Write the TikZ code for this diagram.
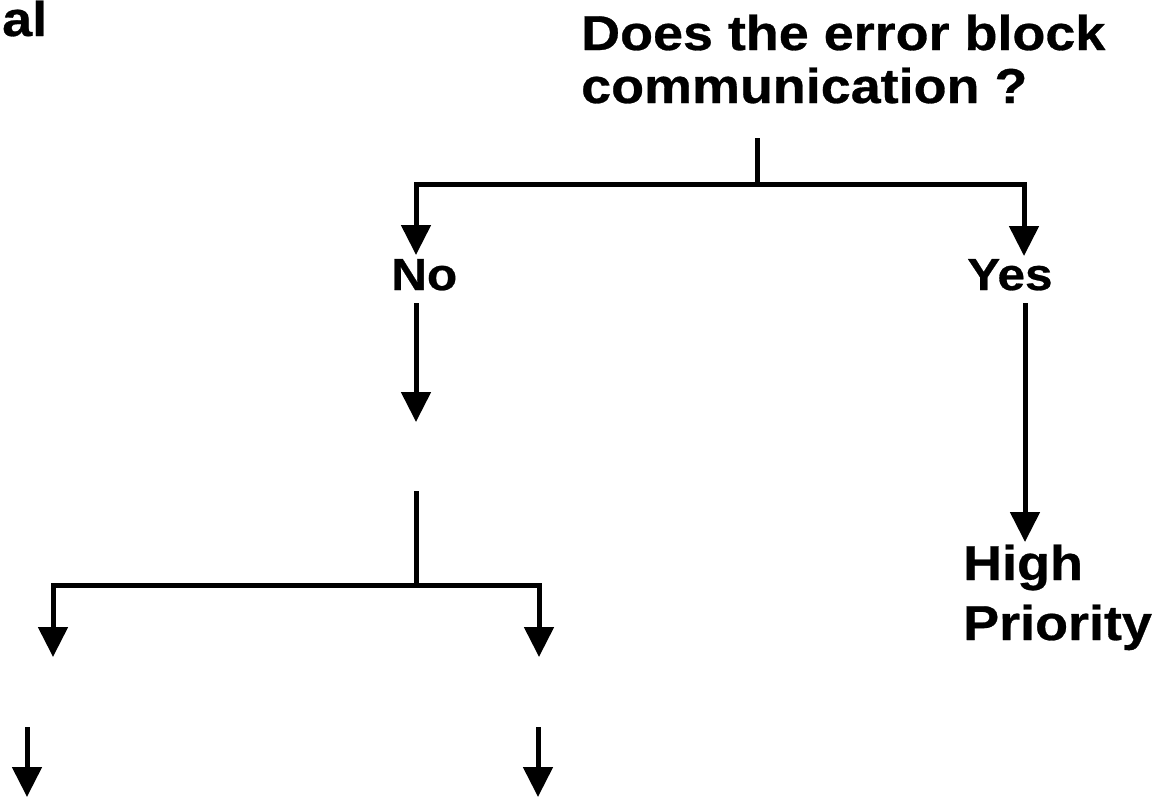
\documentclass[tikz,border=0pt]{standalone}
\usepackage{fontspec}
\newfontfamily\labfont{Liberation Sans}[FakeStretch=1.1,FakeBold=0.6]
\usetikzlibrary{arrows.meta}
\tikzset{
  lbl/.style={inner sep=0pt, anchor=base west, font=\labfont\bfseries\fontsize{49}{52}\selectfont},
  lblsm/.style={inner sep=0pt, anchor=base west, font=\labfont\bfseries\fontsize{45}{48}\selectfont},
  conn/.style={line width=5pt, line join=miter, line cap=butt},
  arr/.style={conn, -{Triangle[length=30pt,width=29pt]}}
}
\begin{document}
\begin{tikzpicture}[x=1pt,y=-1pt]
\useasboundingbox (0,0) rectangle (1167,798);
% texts
\node[lbl] (al) at (2,36) {al};
\node[lbl] (q1) at (581,50) {Does the error block};
\node[lbl] (q2) at (581,103) {communication ?};
\node[lblsm] (no) at (391,290) {No};
\node[lblsm] (yes) at (967,290) {Yes};
\node[lbl] (hp1) at (963,580) {High};
\node[lbl] (hp2) at (963,640) {Priority};
% coordinates
\coordinate (qs) at (757,138);
\coordinate (qj) at (757,184);
\coordinate (lc) at (416,184);
\coordinate (rc) at (1024,184);
\coordinate (lt) at (416,255);
\coordinate (rt) at (1024,256);
\coordinate (ns) at (416,303);
\coordinate (ne) at (416,422);
\coordinate (ys) at (1025,303);
\coordinate (ye) at (1025,542);
\coordinate (bs) at (416,491);
\coordinate (bj) at (416,585);
\coordinate (blc) at (53,585);
\coordinate (brc) at (539,585);
\coordinate (blt) at (53,657);
\coordinate (brt) at (539,657);
\coordinate (l2s) at (27,727);
\coordinate (l2e) at (27,797);
\coordinate (r2s) at (538,727);
\coordinate (r2e) at (538,797);
% connectors
\draw[conn] (qs) -- (qj);
\draw[arr] (qj) -- (lc) -- (lt);
\draw[arr] (qj) -- (rc) -- (rt);
\draw[arr] (ns) -- (ne);
\draw[arr] (ys) -- (ye);
\draw[conn] (bs) -- (bj);
\draw[arr] (bj) -- (blc) -- (blt);
\draw[arr] (bj) -- (brc) -- (brt);
\draw[arr] (l2s) -- (l2e);
\draw[arr] (r2s) -- (r2e);
\end{tikzpicture}
\end{document}
